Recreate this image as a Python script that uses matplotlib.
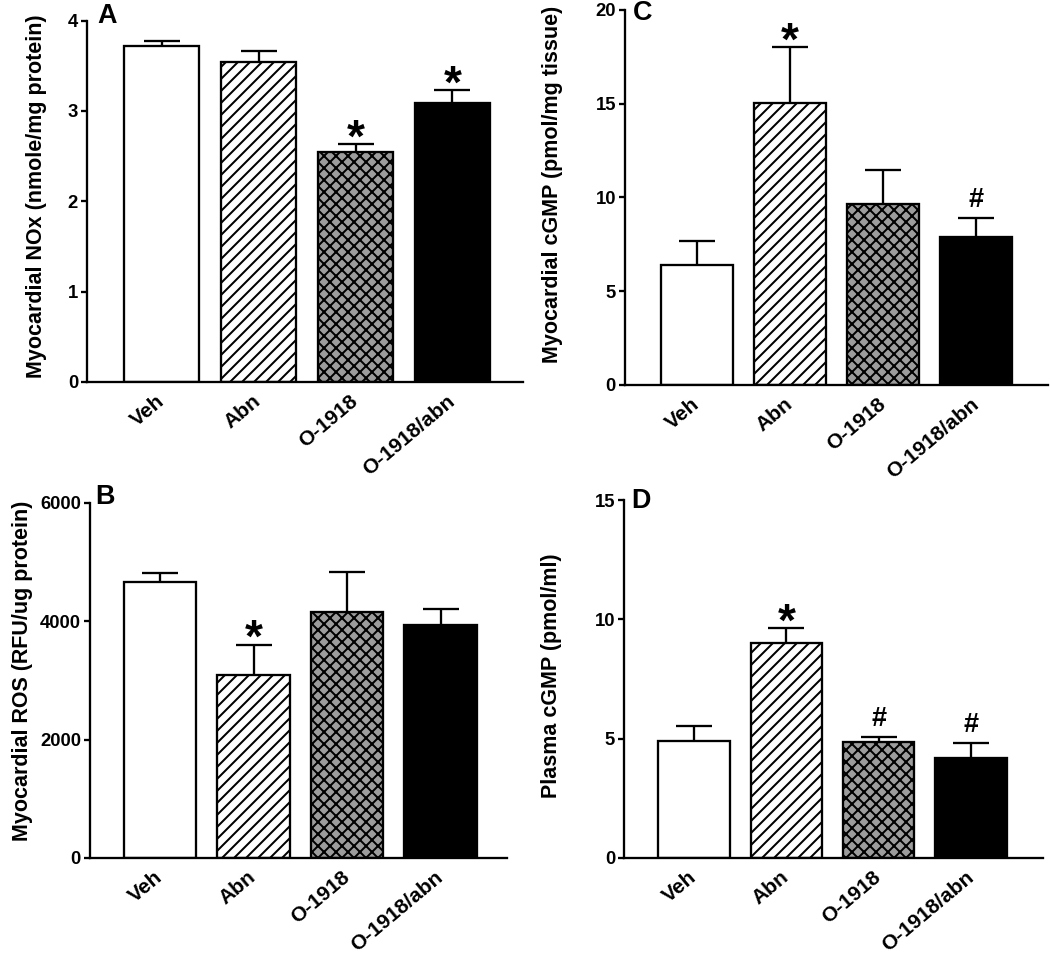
import matplotlib
matplotlib.use("Agg")
import matplotlib.pyplot as plt
import numpy as np

# ---------------- data ----------------
groups = ["Veh", "Abn", "O-1918", "O-1918/abn"]

nox_mean = [3.72, 3.54, 2.55, 3.09]
nox_sem = [0.055, 0.125, 0.08, 0.14]
nox_marks = ["", "", "*", "*"]

cgmp_myo_mean = [6.4, 15.04, 9.64, 7.88]
cgmp_myo_sem = [1.3, 2.97, 1.83, 1.01]
cgmp_myo_marks = ["", "*", "", "#"]

ros_mean = [4662, 3087, 4160, 3945]
ros_sem = [147, 514, 677, 266]
ros_marks = ["", "*", "", ""]

cgmp_pl_mean = [4.91, 9.02, 4.87, 4.21]
cgmp_pl_sem = [0.64, 0.60, 0.21, 0.59]
cgmp_pl_marks = ["", "*", "#", "#"]

# ---------------- style ----------------
DPI = 72
W, H = 1050, 961
FONT = "Liberation Sans"
plt.rcParams["font.family"] = [FONT, "DejaVu Sans"]
plt.rcParams["font.weight"] = "bold"
plt.rcParams["hatch.linewidth"] = 2.0

LW = 2.3
face = ["white", "white", "#9c9c9c", "black"]
hatches = [None, "//", "xx", None]

fig = plt.figure(figsize=(W / DPI, H / DPI), dpi=DPI)

panels = [
    dict(letter="A", mean=nox_mean, sem=nox_sem, marks=nox_marks,
         ylabel="Myocardial NOx (nmole/mg protein)", ylim=4, step=1,
         rect=[0.0829, 0.6025, 0.4152, 0.3760], xlim=(-0.768, 3.727),
         lab=(-0.092, 0.515), let=(10, -2)),
    dict(letter="C", mean=cgmp_myo_mean, sem=cgmp_myo_sem, marks=cgmp_myo_marks,
         ylabel="Myocardial cGMP (pmol/mg tissue)", ylim=20, step=5,
         rect=[0.5952, 0.5994, 0.4029, 0.3902], xlim=(-0.77, 3.77),
         lab=(-0.147, 0.536), let=(8, -10)),
    dict(letter="B", mean=ros_mean, sem=ros_sem, marks=ros_marks,
         ylabel="Myocardial ROS (RFU/ug protein)", ylim=6000, step=2000,
         rect=[0.0857, 0.1072, 0.3971, 0.3694], xlim=(-0.75, 3.71),
         lab=(-0.137, 0.527), let=(5, -1)),
    dict(letter="D", mean=cgmp_pl_mean, sem=cgmp_pl_sem, marks=cgmp_pl_marks,
         ylabel="Plasma cGMP (pmol/ml)", ylim=15, step=5,
         rect=[0.5943, 0.1072, 0.3990, 0.3725], xlim=(-0.76, 3.78),
         lab=(-0.148, 0.508), let=(7, -8)),
]

for p in panels:
    ax = fig.add_axes(p["rect"])
    x = np.arange(len(groups))
    bars = ax.bar(x, p["mean"], width=0.775, color=face, edgecolor="black",
                  linewidth=LW, zorder=2)
    for b, h in zip(bars, hatches):
        if h:
            b.set_hatch(h)
    eb = ax.errorbar(x, p["mean"], yerr=[np.zeros(len(x)), p["sem"]], fmt="none",
                     ecolor="black", elinewidth=LW, capsize=18, capthick=LW, zorder=1)
    eb[1][0].set_visible(False)
    tops = np.array(p["mean"]) + np.array(p["sem"])
    for xi, t, m in zip(x, tops, p["marks"]):
        if m == "*":
            ax.annotate("*", xy=(xi, t), xytext=(0, -7), textcoords="offset points",
                        ha="center", va="baseline", fontsize=46, fontweight="bold")
        elif m == "#":
            ax.annotate("#", xy=(xi, t), xytext=(0, 11), textcoords="offset points",
                        ha="center", va="baseline", fontsize=27, fontweight="bold")
    ax.set_xlim(*p["xlim"])
    ax.set_ylim(0, p["ylim"])
    ax.set_yticks(np.arange(0, p["ylim"] + 1e-9, p["step"]))
    ax.set_xticks(x)
    ax.set_xticklabels(groups, rotation=40, ha="right", va="center",
                       rotation_mode="anchor", fontsize=21, fontweight="bold")
    ax.tick_params(axis="x", length=0, pad=17)
    ax.tick_params(axis="y", length=6, width=LW, pad=3, labelsize=18.5)
    for lbl in ax.get_yticklabels():
        lbl.set_fontweight("bold")
    for s in ("top", "right"):
        ax.spines[s].set_visible(False)
    for s in ("left", "bottom"):
        ax.spines[s].set_linewidth(LW)
    ax.set_ylabel(p["ylabel"], fontsize=21.5, fontweight="bold")
    ax.yaxis.set_label_coords(*p["lab"])
    ax.annotate(p["letter"], xy=(0, 1), xycoords="axes fraction",
                xytext=p["let"], textcoords="offset points",
                ha="left", va="baseline", fontsize=27, fontweight="bold")

fig.savefig("out.png", dpi=DPI)
